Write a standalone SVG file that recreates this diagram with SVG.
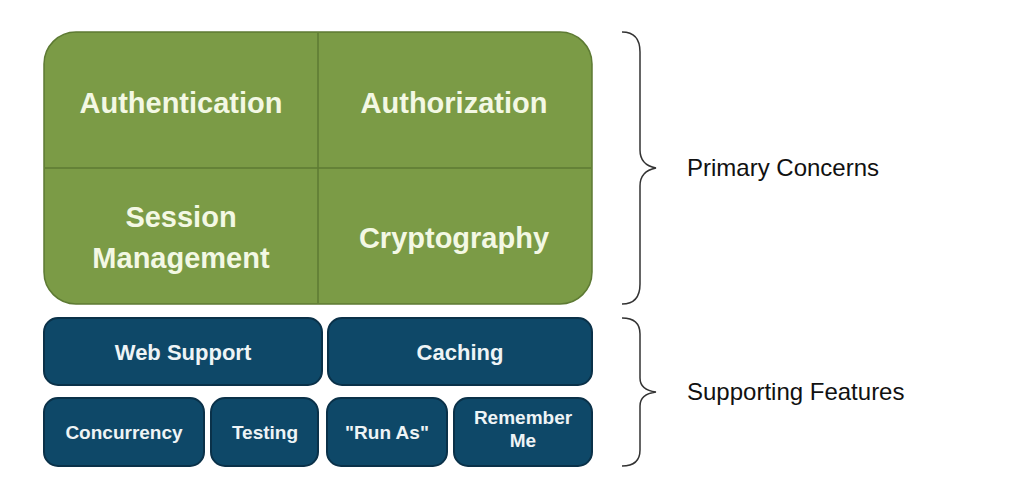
<svg xmlns="http://www.w3.org/2000/svg" width="1021" height="490" viewBox="0 0 1021 490">
<style>
.g{fill:#7b9b46;stroke:#5d7a33;stroke-width:1.5}
.b{fill:#0e4868;stroke:#0a3149;stroke-width:2}
.t{font-family:"Liberation Sans",Arial,sans-serif;font-weight:bold;fill:#f3f8e4;text-anchor:middle}
.tb{font-family:"Liberation Sans",Arial,sans-serif;font-weight:bold;fill:#eef4f6;text-anchor:middle}
.l{font-family:"Liberation Sans",Arial,sans-serif;fill:#111;font-size:24px}
.br{fill:none;stroke:#333;stroke-width:1.5}
</style>
<rect width="1021" height="490" fill="#fff"/>
<g id="primary">
<rect class="g" x="44" y="32" width="548" height="272" rx="32"/>
<line x1="318" y1="33" x2="318" y2="303" stroke="#5d7a33" stroke-width="1.5"/>
<line x1="45" y1="168" x2="591" y2="168" stroke="#5d7a33" stroke-width="1.5"/>
</g>
<g id="authentication"><text class="t" x="181" y="113" font-size="29">Authentication</text></g>
<g id="authorization"><text class="t" x="454" y="113" font-size="29">Authorization</text></g>
<g id="session"><text class="t" x="181" y="227" font-size="29">Session</text><text class="t" x="181" y="268" font-size="29">Management</text></g>
<g id="cryptography"><text class="t" x="454" y="248" font-size="29">Cryptography</text></g>
<g id="web"><rect class="b" x="44" y="318" width="278" height="67" rx="14"/><text class="tb" x="183" y="360" font-size="22">Web Support</text></g>
<g id="caching"><rect class="b" x="328" y="318" width="264" height="67" rx="14"/><text class="tb" x="460" y="360" font-size="22">Caching</text></g>
<g id="concurrency"><rect class="b" x="44" y="398" width="160" height="68" rx="14"/><text class="tb" x="124" y="439" font-size="19">Concurrency</text></g>
<g id="testing"><rect class="b" x="211" y="398" width="107" height="68" rx="14"/><text class="tb" x="265" y="439" font-size="19">Testing</text></g>
<g id="runas"><rect class="b" x="327" y="398" width="120" height="68" rx="14"/><text class="tb" x="387" y="439" font-size="19">"Run As"</text></g>
<g id="remember"><rect class="b" x="454" y="398" width="138" height="68" rx="14"/><text class="tb" x="523" y="424" font-size="19">Remember</text><text class="tb" x="523" y="447" font-size="19">Me</text></g>
<g id="connectors">
<path class="br" d="M622 32 Q640 32 640 52 L640 150 Q640 165 656 168 Q640 171 640 186 L640 284 Q640 304 622 304"/>
<path class="br" d="M622 318 Q640 318 640 334 L640 378 Q640 390 656 392 Q640 394 640 406 L640 450 Q640 466 622 466"/>
</g>
<text class="l" x="687" y="176">Primary Concerns</text>
<text class="l" x="687" y="400">Supporting Features</text>
</svg>
